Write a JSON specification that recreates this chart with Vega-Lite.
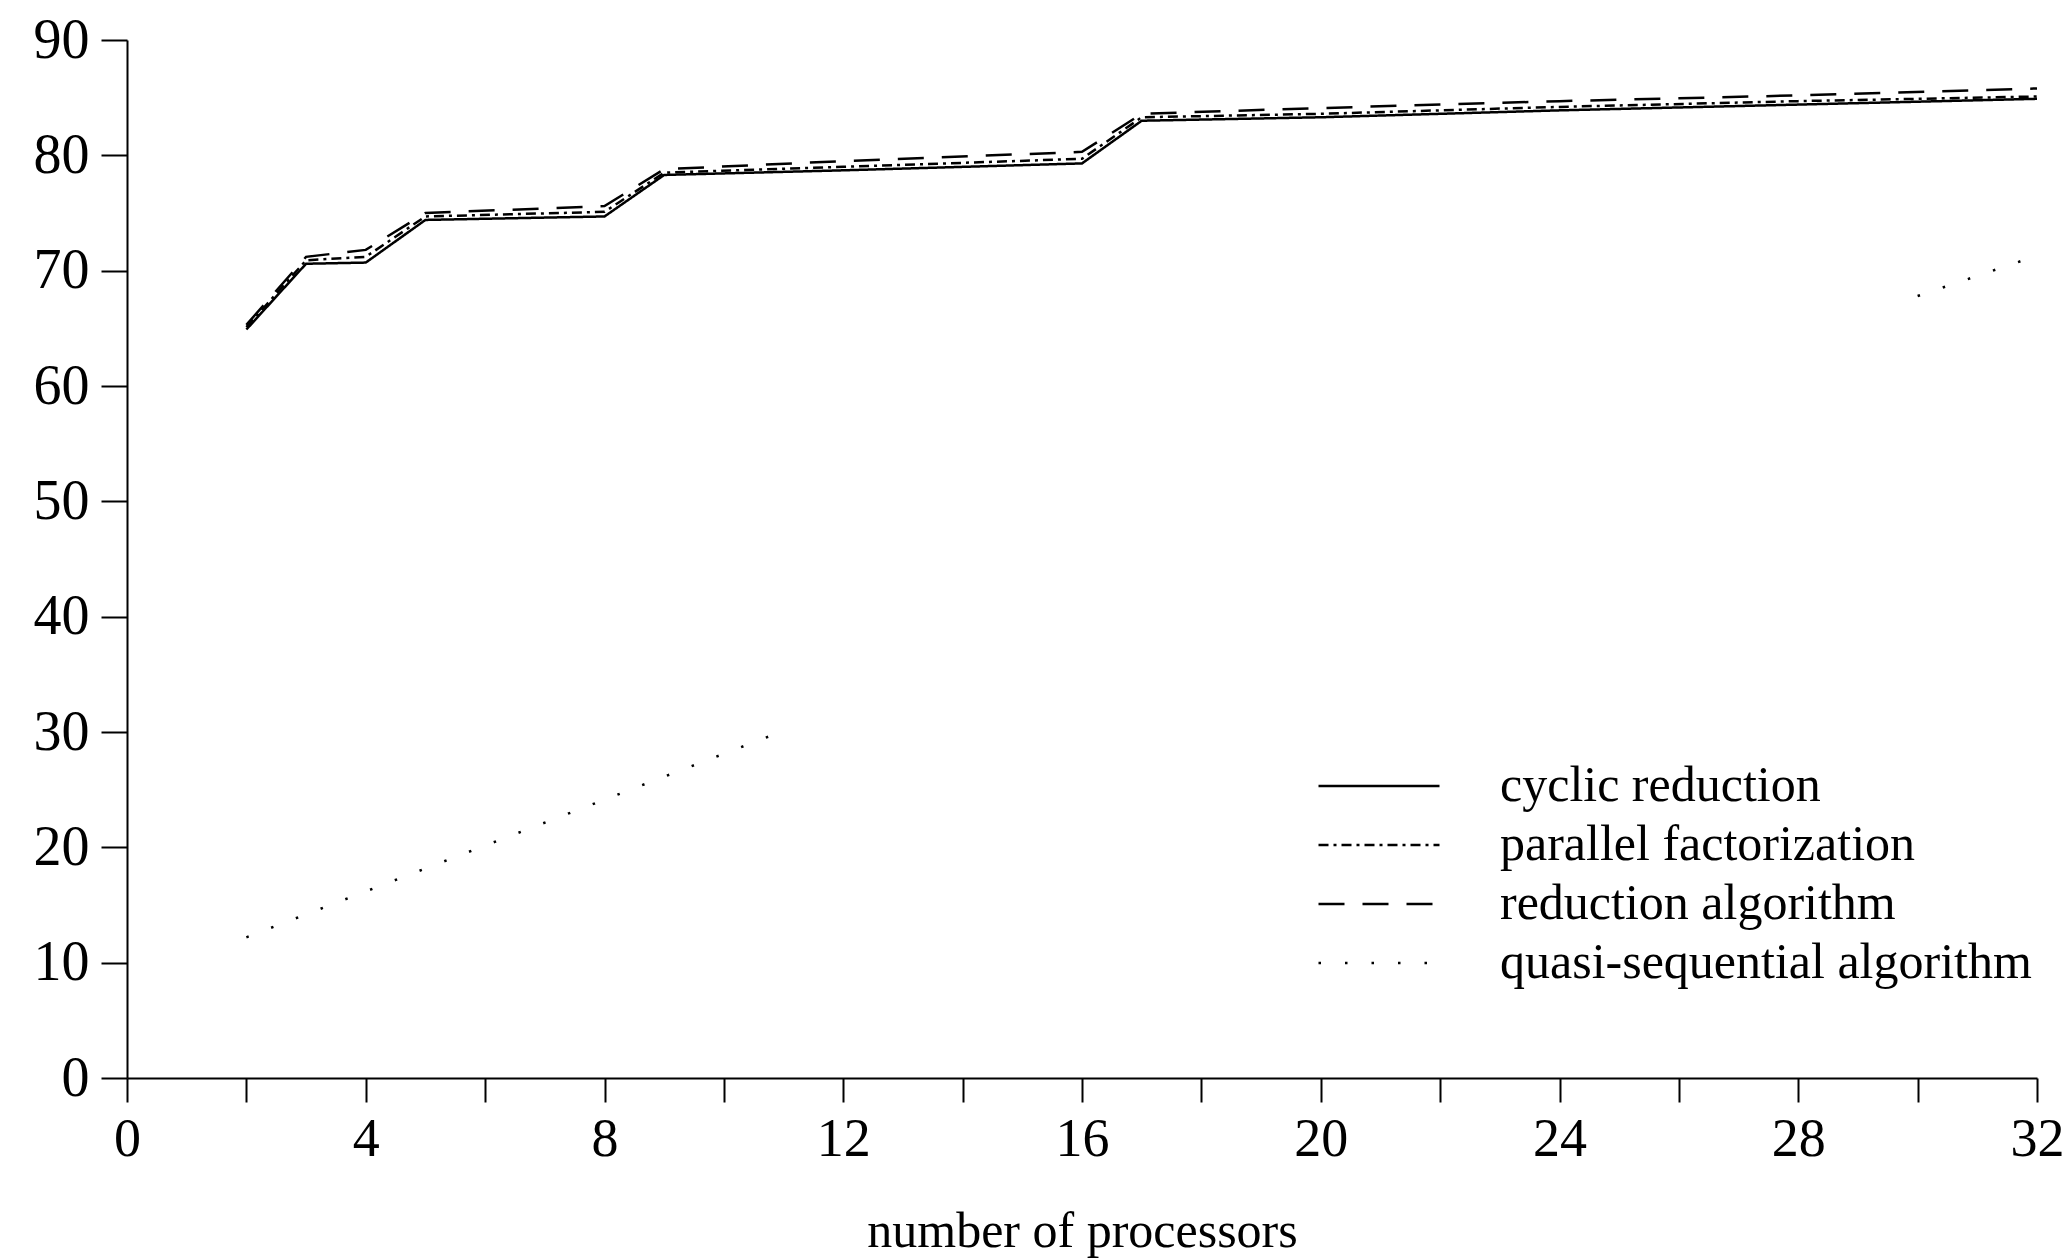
{
  "$schema": "https://vega.github.io/schema/vega-lite/v6.json",
  "autosize": {"type": "none"},
  "padding": {"left": 127, "top": 40, "right": 34, "bottom": 181},
  "width": 1910,
  "height": 1038,
  "background": "white",
  "config": {"view": {"stroke": null}, "font": "Liberation Serif"},
  "data": {
    "values": [
      {"algorithm": "cyclic reduction", "part": "a", "p": 2, "v": 64.9},
      {"algorithm": "cyclic reduction", "part": "a", "p": 3, "v": 70.6},
      {"algorithm": "cyclic reduction", "part": "a", "p": 4, "v": 70.7},
      {"algorithm": "cyclic reduction", "part": "a", "p": 5, "v": 74.4},
      {"algorithm": "cyclic reduction", "part": "a", "p": 8, "v": 74.7},
      {"algorithm": "cyclic reduction", "part": "a", "p": 9, "v": 78.3},
      {"algorithm": "cyclic reduction", "part": "a", "p": 12, "v": 78.7},
      {"algorithm": "cyclic reduction", "part": "a", "p": 16, "v": 79.3},
      {"algorithm": "cyclic reduction", "part": "a", "p": 17, "v": 83.0},
      {"algorithm": "cyclic reduction", "part": "a", "p": 20, "v": 83.3},
      {"algorithm": "cyclic reduction", "part": "a", "p": 24, "v": 83.9},
      {"algorithm": "cyclic reduction", "part": "a", "p": 28, "v": 84.4},
      {"algorithm": "cyclic reduction", "part": "a", "p": 32, "v": 84.9},
      {"algorithm": "parallel factorization", "part": "a", "p": 2, "v": 65.1},
      {"algorithm": "parallel factorization", "part": "a", "p": 3, "v": 70.9},
      {"algorithm": "parallel factorization", "part": "a", "p": 4, "v": 71.2},
      {"algorithm": "parallel factorization", "part": "a", "p": 5, "v": 74.7},
      {"algorithm": "parallel factorization", "part": "a", "p": 8, "v": 75.1},
      {"algorithm": "parallel factorization", "part": "a", "p": 9, "v": 78.5},
      {"algorithm": "parallel factorization", "part": "a", "p": 12, "v": 79.0},
      {"algorithm": "parallel factorization", "part": "a", "p": 16, "v": 79.7},
      {"algorithm": "parallel factorization", "part": "a", "p": 17, "v": 83.3},
      {"algorithm": "parallel factorization", "part": "a", "p": 20, "v": 83.6},
      {"algorithm": "parallel factorization", "part": "a", "p": 24, "v": 84.2},
      {"algorithm": "parallel factorization", "part": "a", "p": 28, "v": 84.7},
      {"algorithm": "parallel factorization", "part": "a", "p": 32, "v": 85.1},
      {"algorithm": "reduction algorithm", "part": "a", "p": 2, "v": 65.3},
      {"algorithm": "reduction algorithm", "part": "a", "p": 3, "v": 71.2},
      {"algorithm": "reduction algorithm", "part": "a", "p": 4, "v": 71.8},
      {"algorithm": "reduction algorithm", "part": "a", "p": 5, "v": 75.0},
      {"algorithm": "reduction algorithm", "part": "a", "p": 8, "v": 75.6},
      {"algorithm": "reduction algorithm", "part": "a", "p": 9, "v": 78.8},
      {"algorithm": "reduction algorithm", "part": "a", "p": 12, "v": 79.5},
      {"algorithm": "reduction algorithm", "part": "a", "p": 16, "v": 80.3},
      {"algorithm": "reduction algorithm", "part": "a", "p": 17, "v": 83.6},
      {"algorithm": "reduction algorithm", "part": "a", "p": 20, "v": 84.1},
      {"algorithm": "reduction algorithm", "part": "a", "p": 24, "v": 84.7},
      {"algorithm": "reduction algorithm", "part": "a", "p": 28, "v": 85.2},
      {"algorithm": "reduction algorithm", "part": "a", "p": 32, "v": 85.8},
      {"algorithm": "quasi-sequential algorithm", "part": "a", "p": 2, "v": 12.2},
      {"algorithm": "quasi-sequential algorithm", "part": "a", "p": 11.1, "v": 30.3},
      {"algorithm": "quasi-sequential algorithm", "part": "b", "p": 30, "v": 67.8},
      {"algorithm": "quasi-sequential algorithm", "part": "b", "p": 32, "v": 71.3}
    ]
  },
  "mark": {"type": "line", "color": "black", "strokeWidth": 2.5, "clip": true},
  "encoding": {
    "x": {
      "field": "p",
      "type": "quantitative",
      "scale": {"domain": [0, 32], "nice": false, "zero": false},
      "axis": {
        "values": [0, 2, 4, 6, 8, 10, 12, 14, 16, 18, 20, 22, 24, 26, 28, 30, 32],
        "labelExpr": "datum.value % 4 === 0 ? datum.label : ''",
        "title": "number of processors",
        "grid": false,
        "domainColor": "black",
        "domainWidth": 2,
        "tickColor": "black",
        "tickWidth": 2,
        "tickSize": 24,
        "labelFont": "Liberation Serif",
        "labelFontSize": 54,
        "labelColor": "black",
        "labelPadding": 10,
        "labelFlush": false,
        "labelOverlap": false,
        "titleFont": "Liberation Serif",
        "titleFontSize": 50,
        "titleFontWeight": "normal",
        "titleColor": "black",
        "titlePadding": 40
      }
    },
    "y": {
      "field": "v",
      "type": "quantitative",
      "scale": {"domain": [0, 90], "nice": false, "zero": false},
      "axis": {
        "values": [0, 10, 20, 30, 40, 50, 60, 70, 80, 90],
        "title": null,
        "grid": false,
        "domainColor": "black",
        "domainWidth": 2,
        "tickColor": "black",
        "tickWidth": 2,
        "tickSize": 26,
        "labelFont": "Liberation Serif",
        "labelFontSize": 56,
        "labelColor": "black",
        "labelPadding": 12,
        "labelFlush": false,
        "labelOverlap": false
      }
    },
    "strokeDash": {
      "field": "algorithm",
      "type": "nominal",
      "scale": {
        "domain": ["cyclic reduction", "parallel factorization", "reduction algorithm", "quasi-sequential algorithm"],
        "range": [[1, 0], [10, 5, 3, 5], [26, 18], [2.5, 24]]
      },
      "legend": {
        "title": null,
        "orient": "none",
        "legendX": 1223,
        "legendY": 717,
        "symbolType": "M-2.2,0H2.2",
        "symbolSize": 3025,
        "symbolStrokeWidth": 2.5,
        "symbolStrokeColor": "black",
        "labelFont": "Liberation Serif",
        "labelFontSize": 50,
        "labelColor": "black",
        "labelOffset": 92,
        "labelLimit": 0,
        "rowPadding": 5,
        "padding": 0
      }
    },
    "detail": {"field": "part"}
  }
}
